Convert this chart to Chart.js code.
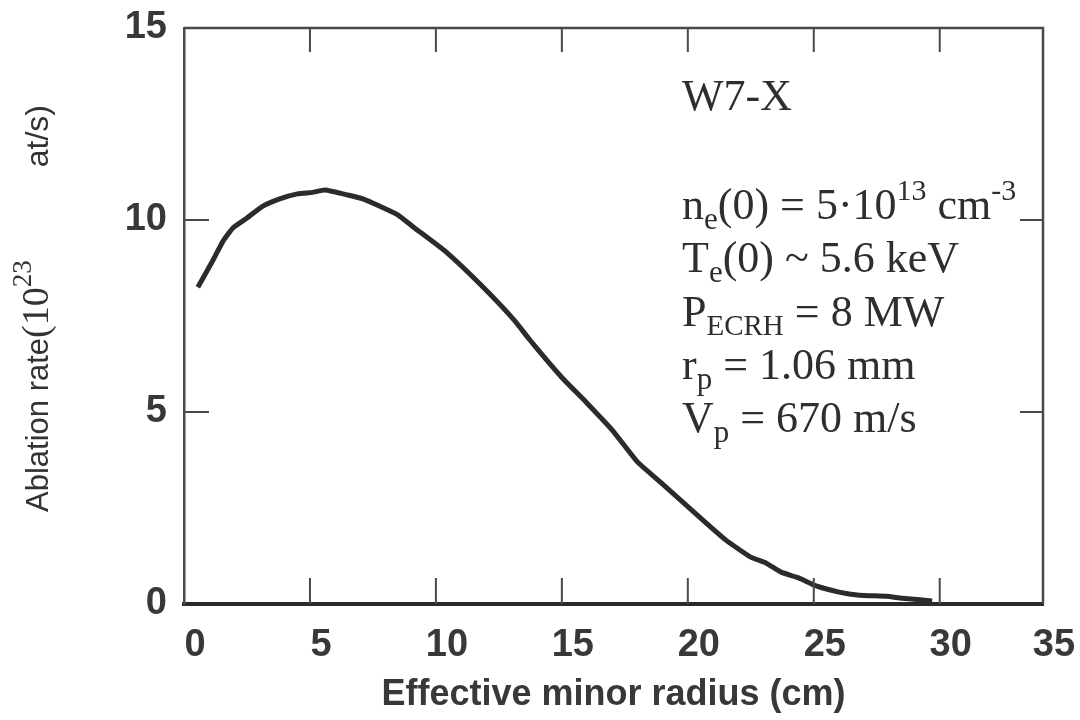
<!DOCTYPE html>
<html>
<head>
<meta charset="utf-8">
<script src="https://cdn.jsdelivr.net/npm/chart.js@4.4.0/dist/chart.umd.min.js"></script>
<style>
    html, body { margin: 0; padding: 0; background: #fff; }
    #wrap { width: 1080px; height: 720px; }
</style>
</head>
<body>
<div id="wrap"><canvas id="ablationChart"></canvas></div>
<script>
// --- Data ---
const radius = [0.55, 1.15, 1.55, 1.95, 2.5, 3.1, 3.8, 4.5, 5.1, 5.6, 6.5, 7.1, 7.8, 8.5, 9.1,
    10.4, 11.8, 13.1, 13.7, 14.4, 15.0, 16.0, 17.0, 18.0, 18.9, 19.7, 20.5, 21.5, 22.5,
    23.1, 23.7, 24.4, 25.1, 26.0, 26.8, 27.9, 28.5, 29.7];
const ablationRate = [8.25, 8.95, 9.45, 9.8, 10.05, 10.35, 10.55, 10.68, 10.72, 10.78, 10.65, 10.55, 10.35, 10.13, 9.82,
    9.17, 8.3, 7.4, 6.9, 6.35, 5.9, 5.23, 4.53, 3.7, 3.18, 2.71, 2.24, 1.67, 1.22,
    1.07, 0.83, 0.68, 0.47, 0.31, 0.23, 0.2, 0.15, 0.08];

const xTickValues = [0, 5, 10, 15, 20, 25, 30, 35];
const xTickLabels = ['0', '5', '10', '15', '20', '25', '30', '35'];
const yTickValues = [0, 5, 10, 15];
const yTickLabels = ['0', '5', '10', '15'];

const xTitle = 'Effective minor radius (cm)';
// y title pieces: [text, kind]; the unit part sits at the far end
const yTitleParts = [['Ablation rate', 'sans'], ['(10', 'serif'], ['23', 'sup']];
const yTitleUnit = 'at/s)';

// annotation lines: [text, kind] kind = n (normal), sub, sup
const noteTitle = 'W7-X';
const noteLines = [
    [['n', 'n'], ['e', 'sub'], ['(0) = 5\u00B710', 'n'], ['13', 'sup'], [' cm', 'n'], ['-3', 'sup']],
    [['T', 'n'], ['e', 'sub'], ['(0) ~ 5.6 keV', 'n']],
    [['P', 'n'], ['ECRH', 'subcap'], [' = 8 MW', 'n']],
    [['r', 'n'], ['p', 'sub'], [' = 1.06 mm', 'n']],
    [['V', 'n'], ['p', 'sub'], [' = 670 m/s', 'n']]
];

const X_MAX = 34.1;
const SANS = '"Liberation Sans", Arial, sans-serif';
const NARROW = '"Liberation Sans Narrow", "Liberation Sans", Arial, sans-serif';
const SERIF = '"Liberation Serif", "Times New Roman", serif';

// --- Plugins ---
const frameAndTicks = {
    id: 'frameAndTicks',
    afterDatasetsDraw(chart) {
        const { ctx, chartArea: a, scales } = chart;
        ctx.save();
        ctx.strokeStyle = '#4a4a4a';
        ctx.lineWidth = 2.5;
        ctx.beginPath();
        ctx.moveTo(a.left, a.top);
        ctx.lineTo(a.right, a.top);
        ctx.lineTo(a.right, a.bottom);
        ctx.stroke();

        ctx.lineWidth = 2;
        ctx.beginPath();
        xTickValues.filter(v => v > 0 && v < X_MAX).forEach(v => {
            const px = scales.x.getPixelForValue(v);
            ctx.moveTo(px, a.bottom);
            ctx.lineTo(px, a.bottom - 26);
            ctx.moveTo(px, a.top);
            ctx.lineTo(px, a.top + 24);
        });
        yTickValues.filter(v => v > 0 && v < 15).forEach(v => {
            const py = scales.y.getPixelForValue(v);
            ctx.moveTo(a.left, py);
            ctx.lineTo(a.left + 25, py);
            ctx.moveTo(a.right, py);
            ctx.lineTo(a.right - 23, py);
        });
        ctx.stroke();
        ctx.restore();
    },
    afterDraw(chart) {
        const { ctx } = chart;
        ctx.save();
        ctx.fillStyle = '#2e2e2e';
        ctx.textBaseline = 'alphabetic';

        // annotation block
        const base = 44;
        ctx.font = base + 'px ' + SERIF;
        ctx.fillText(noteTitle, 682, 110);
        let y = 219;
        noteLines.forEach(line => {
            let x = 682;
            line.forEach(([txt, kind]) => {
                let size = base, dy = 0;
                if (kind === 'sub') { size = 31; dy = 10; }
                if (kind === 'subcap') { size = 29; dy = 9; }
                if (kind === 'sup') { size = 30; dy = -19; }
                ctx.font = size + 'px ' + SERIF;
                ctx.fillText(txt, x, y + dy);
                x += ctx.measureText(txt).width;
            });
            y += 53.3;
        });
        ctx.restore();

        // rotated y title, from y=512 up to y=105
        ctx.save();
        ctx.translate(48, 512);
        ctx.rotate(-Math.PI / 2);
        ctx.fillStyle = '#333';
        ctx.textBaseline = 'alphabetic';
        let x = 0;
        yTitleParts.forEach(([txt, kind]) => {
            let dy = 0;
            if (kind === 'sans') ctx.font = '31px ' + SANS;
            if (kind === 'serif') ctx.font = '38px ' + SERIF;
            if (kind === 'sup') { ctx.font = '27px ' + SERIF; dy = -17; }
            ctx.fillText(txt, x, dy);
            x += ctx.measureText(txt).width;
        });
        ctx.font = '32px ' + SANS;
        ctx.textAlign = 'right';
        ctx.fillText(yTitleUnit, 407, 0);
        ctx.restore();
    }
};

// --- Chart ---
const ctx = document.getElementById('ablationChart').getContext('2d');
new Chart(ctx, {
    type: 'line',
    data: {
        datasets: [{
            data: radius.map((r, i) => ({ x: r, y: ablationRate[i] })),
            borderColor: '#2b2b2b',
            borderWidth: 5,
            pointRadius: 0,
            tension: 0.15,
            fill: false
        }]
    },
    options: {
        responsive: true,
        maintainAspectRatio: false,
        animation: false,
        layout: { padding: { left: 0, right: 37, top: 28, bottom: 0 } },
        plugins: {
            legend: { display: false },
            tooltip: { enabled: false }
        },
        scales: {
            x: {
                type: 'linear',
                min: 0,
                max: X_MAX,
                grid: { display: false, drawTicks: false },
                border: { display: true, color: '#2a2a2a', width: 4 },
                afterBuildTicks: scale => {
                    scale.ticks = xTickValues.map(v => ({ value: Math.min(v, X_MAX) }));
                },
                afterFit: scale => {
                    scale.height = 116;
                    scale.paddingLeft = 0;
                    scale.paddingRight = 0;
                },
                ticks: {
                    autoSkip: false,
                    maxRotation: 0,
                    padding: 19,
                    labelOffset: 11,
                    color: '#383838',
                    font: { family: NARROW, size: 38, weight: 'bold' },
                    callback: (v, i) => xTickLabels[i]
                },
                title: {
                    display: true,
                    text: xTitle,
                    color: '#383838',
                    font: { family: SANS, size: 36, weight: 'bold' },
                    padding: { top: 0, bottom: 3 }
                }
            },
            y: {
                min: 0,
                max: 15,
                grid: { display: false, drawTicks: false },
                border: { display: true, color: '#4a4a4a', width: 2.5 },
                afterBuildTicks: scale => {
                    scale.ticks = yTickValues.map(v => ({ value: v }));
                },
                afterFit: scale => {
                    scale.width = 184;
                    scale.paddingTop = 0;
                    scale.paddingBottom = 0;
                },
                ticks: {
                    padding: 17,
                    color: '#383838',
                    font: { family: NARROW, size: 38, weight: 'bold' },
                    callback: (v, i) => yTickLabels[i]
                }
            }
        }
    },
    plugins: [frameAndTicks]
});
</script>
</body>
</html>
